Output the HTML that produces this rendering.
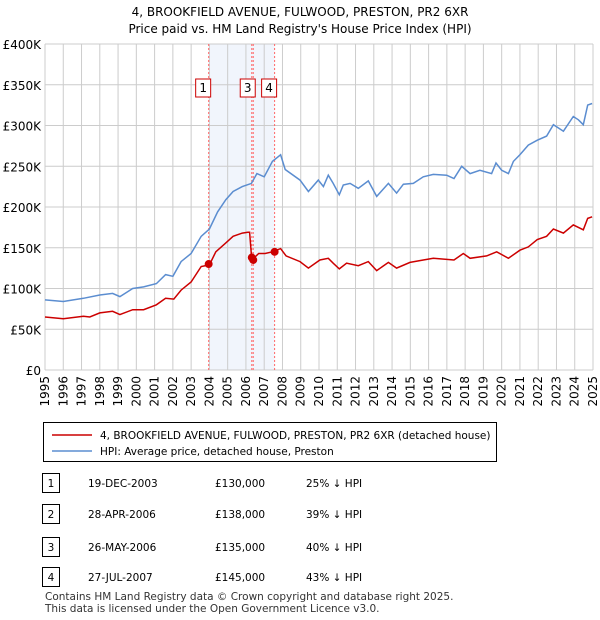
<!DOCTYPE html>
<html><head><meta charset="utf-8"><style>
body{margin:0;background:#fff;font-family:"DejaVu Sans","Liberation Sans",sans-serif;}
#wrap{position:relative;width:600px;height:620px;}
</style></head><body>
<div id="wrap">
<svg id="chart" width="600" height="620" style="position:absolute;left:0;top:0"></svg>
</div>
<script>
const hpiYears=[1995,1996,1997.1,1998,1998.7,1999.1,1999.8,2000.4,2001.1,2001.6,2002,2002.45,2003,2003.55,2004,2004.45,2004.9,2005.3,2005.8,2006.3,2006.6,2007,2007.45,2007.9,2008.15,2008.96,2009.42,2009.96,2010.24,2010.51,2010.78,2011.11,2011.33,2011.7,2012.15,2012.7,2013.16,2013.8,2014.25,2014.62,2015.16,2015.71,2016.26,2016.99,2017.39,2017.81,2018.27,2018.81,2019.45,2019.69,2020.0,2020.37,2020.64,2021.0,2021.46,2021.95,2022.46,2022.83,2023.38,2023.92,2024.2,2024.47,2024.71,2024.95];
const hpiValues=[86,84,88,92,94,90,100,102,106,117,115,133,143,164,173,194,209,219,225,229,241,237,256,264,246,233,219,233,225,239,229,215,227,229,223,232,213,229,217,228,229,237,240,239,235,250,241,245,241,254,245,241,256,264,276,282,287,301,293,311,307,301,325,327];
const ppYears=[1995,1996,1997.1,1997.45,1998,1998.7,1999.1,1999.8,2000.4,2001.1,2001.6,2002.05,2002.45,2003,2003.55,2004,2004.35,2004.9,2005.3,2005.8,2006.1,2006.2,2006.32,2006.7,2007.05,2007.45,2007.9,2008.2,2008.96,2009.42,2010.05,2010.51,2010.78,2011.11,2011.51,2012.15,2012.7,2013.16,2013.8,2014.25,2014.98,2015.71,2016.26,2017.39,2017.9,2018.27,2019.18,2019.73,2020.37,2021.0,2021.46,2021.95,2022.46,2022.83,2023.38,2023.92,2024.47,2024.71,2024.95];
const ppValues=[65,63,66,65,70,72,68,74,74,80,88,87,98,108,127,129,145,156,164,168,169,169,135,143,143,145,149,140,133,125,135,137,131,124,131,128,133,122,132,125,132,135,137,135,143,137,140,145,137,147,151,160,164,173,168,178,172,186,188];
const saleYears=[2003.96,2006.32,2006.4,2007.57];
const saleValues=[130,138,135,145];
const saleLabels=["1","2","3","4"];
const yTicks=[0,50,100,150,200,250,300,350,400];
const yTickLabels=["£0","£50K","£100K","£150K","£200K","£250K","£300K","£350K","£400K"];
const xYears=[1995,1996,1997,1998,1999,2000,2001,2002,2003,2004,2005,2006,2007,2008,2009,2010,2011,2012,2013,2014,2015,2016,2017,2018,2019,2020,2021,2022,2023,2024,2025];
const tableDates=["19-DEC-2003","28-APR-2006","26-MAY-2006","27-JUL-2007"];
const tablePrices=["£130,000","£138,000","£135,000","£145,000"];
const tableHpi=["25% ↓ HPI","39% ↓ HPI","40% ↓ HPI","43% ↓ HPI"];

const L=45,R=593,T=44,B=370;
const X=y=>L+(y-1995)*(R-L)/30;
const Y=v=>B-v*(B-T)/400;
const svg=document.getElementById('chart');
const NS='http://www.w3.org/2000/svg';
function mk(tag,attrs,parent){const e=document.createElementNS(NS,tag);for(const k in attrs)e.setAttribute(k,attrs[k]);(parent||svg).appendChild(e);return e;}
function txt(x,y,s,attrs){const e=mk('text',Object.assign({x:x,y:y,'font-size':12,'font-family':'DejaVu Sans, Liberation Sans, sans-serif'},attrs||{}));e.textContent=s;return e;}

let e;
e=txt(300,16,"4, BROOKFIELD AVENUE, FULWOOD, PRESTON, PR2 6XR",{'text-anchor':'middle'});


e=txt(300,33,"Price paid vs. HM Land Registry's House Price Index (HPI)",{'text-anchor':'middle'});



e=mk('rect',{x:X(saleYears[0]),y:T,width:X(saleYears[3])-X(saleYears[0]),height:B-T,fill:'#eef2fb',opacity:0.8});



yTicks.forEach((v,i)=>{
 e=mk('line',{x1:L,x2:R,y1:Y(v),y2:Y(v),stroke:'#cccccc','stroke-width':1});
 
 
 e=txt(L-4,Y(v)+5,yTickLabels[i],{'text-anchor':'end'});
 
 
});
xYears.forEach(y=>{
 e=mk('line',{x1:X(y),x2:X(y),y1:T,y2:B,stroke:'#cccccc','stroke-width':1});
 
 
 e=txt(X(y)+4,B+6,String(y),{transform:`rotate(-90 ${X(y)+4} ${B+6})`,'text-anchor':'end'});
 
 
});

saleYears.forEach(y=>{
 e=mk('line',{x1:X(y),x2:X(y),y1:T,y2:B,stroke:'#ff6666','stroke-width':1,'stroke-dasharray':'2,2'});
 
 
});

function path(xs,vs,color){
 const d=xs.map((y,i)=>(i?'L':'M')+X(y).toFixed(1)+' '+Y(vs[i]).toFixed(1)).join(' ');
 return mk('path',{d:d,fill:'none',stroke:color,'stroke-width':1.5});
}
e=path(hpiYears,hpiValues,'#5b8dd0');


e=path(ppYears,ppValues,'#cc0000');



saleYears.forEach((y,i)=>{
 e=mk('circle',{cx:X(y),cy:Y(saleValues[i]),r:4,fill:'#cc0000'});
 
 
});
[0,1,2,3].forEach(i=>{
 if(i===1)return;
 const bx=X(saleYears[i])-13;
 e=mk('rect',{x:bx,y:79,width:15,height:18,fill:'#fff',stroke:'#cc0000','stroke-width':1});
 
 
 e=txt(bx+7.5,92,saleLabels[i],{'text-anchor':'middle'});
 
 
});

e=mk('rect',{x:43.5,y:422.5,width:453,height:39,fill:'#fff',stroke:'#000','stroke-width':1});


e=mk('line',{x1:52,x2:92,y1:435,y2:435,stroke:'#cc0000','stroke-width':1.5});


e=txt(100,439,"4, BROOKFIELD AVENUE, FULWOOD, PRESTON, PR2 6XR (detached house)",{'font-size':10.5});


e=mk('line',{x1:52,x2:92,y1:451,y2:451,stroke:'#5b8dd0','stroke-width':1.5});


e=txt(100,455,"HPI: Average price, detached house, Preston",{'font-size':10.5});



const rowY=[483,514,547,577];
rowY.forEach((ry,i)=>{
 e=mk('rect',{x:42.5,y:ry-9.5,width:17,height:19,fill:'#fff',stroke:'#000','stroke-width':1});
 
 
 e=txt(51,ry+4,saleLabels[i],{'text-anchor':'middle','font-size':10.5});
 
 
 e=txt(88,ry+4,tableDates[i],{'font-size':10.5});
 
 
 e=txt(215,ry+4,tablePrices[i],{'font-size':10.5});
 
 
 e=txt(306,ry+4,tableHpi[i],{'font-size':10.5});
 
 
});
e=txt(45,600,"Contains HM Land Registry data © Crown copyright and database right 2025.",{'font-size':10.5,fill:'#333'});


e=txt(45,612,"This data is licensed under the Open Government Licence v3.0.",{'font-size':10.5,fill:'#333'});


</script>
</body></html>
